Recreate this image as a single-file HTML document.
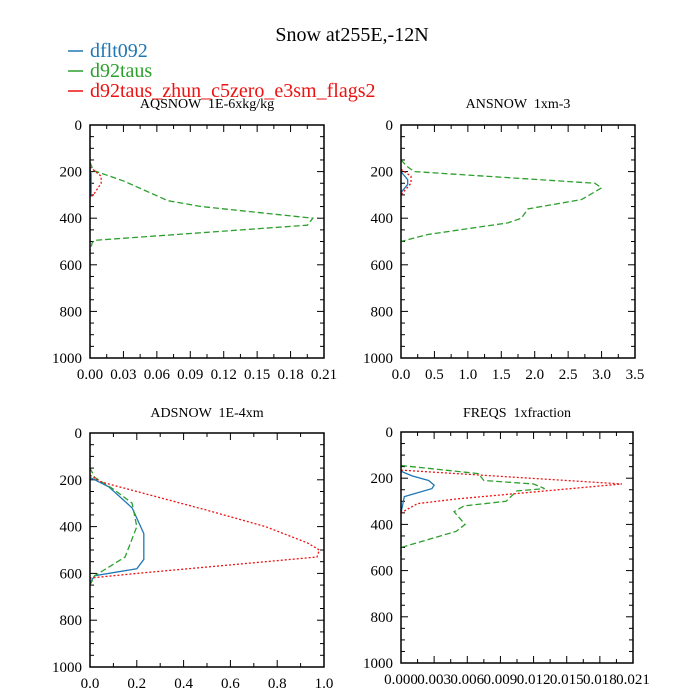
<!DOCTYPE html>
<html><head><meta charset="utf-8"><style>
body{margin:0;background:#fff}
svg{display:block;font-family:"Liberation Serif",serif}
text{white-space:pre}
</style></head><body>
<svg id="fig" width="700" height="700" xml:space="preserve">
<text x="352" y="41" font-size="20" text-anchor="middle">Snow at255E,-12N</text>
</svg>
<script>
const seriesNames=["dflt092","d92taus","d92taus_zhun_c5zero_e3sm_flags2"];
const seriesColors=["#1f77b4","#2ca02c","#ee1111"];
const seriesDash=["","6,3","2,2"];
const panelTitles=["AQSNOW  1E-6xkg/kg","ANSNOW  1xm-3","ADSNOW  1E-4xm","FREQS  1xfraction"];
const xTicks0=["0.00","0.03","0.06","0.09","0.12","0.15","0.18","0.21"];
const xTicks1=["0.0","0.5","1.0","1.5","2.0","2.5","3.0","3.5"];
const xTicks2=["0.0","0.2","0.4","0.6","0.8","1.0"];
const xTicks3=["0.000","0.003","0.006","0.009","0.012","0.015","0.018","0.021"];
const yTicks=[0,200,400,600,800,1000];
const aqBlueX=[0,0.001,0.001,0];const aqBlueP=[190,210,290,310];
const aqGreenX=[0,0.003,0.03,0.07,0.1,0.2,0.195,0.004,0.002,0];const aqGreenP=[160,195,240,325,350,400,430,495,505,540];
const aqRedX=[0,0.01,0.01,0.003,0];const aqRedP=[180,220,250,300,310];
const anBlueX=[0,0.1,0.1,0];const anBlueP=[200,235,255,290];
const anGreenX=[0,0.1,0.2,2.9,3.0,2.7,1.9,1.8,1.6,0.4,0];const anGreenP=[150,180,200,250,270,320,360,400,420,470,500];
const anRedX=[0,0.15,0.15,0];const anRedP=[190,220,250,300];
const adBlueX=[0,0.08,0.18,0.23,0.23,0.2,0.02,0];const adBlueP=[190,230,320,430,540,580,610,640];
const adGreenX=[0,0.02,0.1,0.18,0.2,0.15,0.02,0];const adGreenP=[150,190,240,300,400,530,610,650];
const adRedX=[0,0.05,0.2,0.5,0.75,0.93,0.98,0.97,0.2,0];const adRedP=[180,210,250,330,400,470,500,530,600,620];
const frBlueX=[0,0.001,0.0025,0.003,0.0028,0.001,0.0003,0];const frBlueP=[170,190,210,230,245,270,280,350];
const frGreenX=[0,0.007,0.0075,0.012,0.013,0.0105,0.0095,0.0057,0.0048,0.0058,0.005,0,0];const frGreenP=[145,180,210,225,245,255,300,320,345,400,430,500,540];
const frRedX=[0,0.02,0.005,0.0015,0];const frRedP=[165,225,290,310,350];

const NS="http://www.w3.org/2000/svg";
const svg=document.getElementById('fig');
function mk(t,a,p){const e=document.createElementNS(NS,t);for(const k in a)e.setAttribute(k,a[k]);(p||svg).appendChild(e);return e;}
const panels=[
 {x0:90,x1:324,y0:125,y1:358,xmax:0.21,ticks:xTicks0,tfs:15,series:[[aqBlueX,aqBlueP],[aqGreenX,aqGreenP],[aqRedX,aqRedP]],ty:108},
 {x0:401,x1:635,y0:125,y1:358,xmax:3.5,ticks:xTicks1,tfs:15,series:[[anBlueX,anBlueP],[anGreenX,anGreenP],[anRedX,anRedP]],ty:108},
 {x0:90,x1:324,y0:433,y1:667,xmax:1.0,ticks:xTicks2,tfs:15,series:[[adBlueX,adBlueP],[adGreenX,adGreenP],[adRedX,adRedP]],ty:417},
 {x0:401,x1:633,y0:432,y1:663,xmax:0.021,ticks:xTicks3,tfs:15,series:[[frBlueX,frBlueP],[frGreenX,frGreenP],[frRedX,frRedP]],ty:417}
];
panels.forEach((P,i)=>{
 const g=mk('g',{});
 
 
 const sx=v=>P.x0+(P.x1-P.x0)*v/P.xmax;
 const sy=p=>P.y0+(P.y1-P.y0)*p/1000;
 const t=mk('text',{x:(P.x0+P.x1)/2,y:P.ty,'font-size':14,'text-anchor':'middle'},g);t.textContent=panelTitles[i];
 
 
 const n=P.ticks.length-1;
 for(let k=0;k<=2*n;k++){const x=P.x0+(P.x1-P.x0)*k/(2*n);const L=k%2?4:7;
  mk('line',{x1:x,x2:x,y1:P.y1,y2:P.y1-L,stroke:'#000','stroke-width':1},g);
  mk('line',{x1:x,x2:x,y1:P.y0,y2:P.y0+L,stroke:'#000','stroke-width':1},g);}
 P.ticks.forEach((lab,k)=>{const tx=mk('text',{x:P.x0+(P.x1-P.x0)*k/n,y:P.y1+21,'font-size':P.tfs,'text-anchor':'middle'},g);tx.textContent=lab;
  
  });
 for(let p=0;p<=1000;p+=50){const y=sy(p);const L=p%200===0?7:4;
  mk('line',{x1:P.x0,x2:P.x0+L,y1:y,y2:y,stroke:'#000','stroke-width':1},g);
  mk('line',{x1:P.x1,x2:P.x1-L,y1:y,y2:y,stroke:'#000','stroke-width':1},g);}
 yTicks.forEach(p=>{const ty=mk('text',{x:P.x0-8,y:sy(p)+5,'font-size':15,'text-anchor':'end'},g);ty.textContent=p;
  
  });
 P.series.forEach((s,j)=>{const pts=s[0].map((v,k)=>sx(v)+','+sy(s[1][k])).join(' ');
  const pl=mk('polyline',{points:pts,fill:'none',stroke:seriesColors[j],'stroke-width':1.3,'stroke-dasharray':seriesDash[j]},g);
  
  
  const base=mk('line',{x1:sx(0),x2:sx(0),y1:sy(j===1?540:(j===0?310:350)),y2:P.y1,stroke:seriesColors[j],'stroke-width':1,'stroke-dasharray':seriesDash[j]},g);
  
  });
 const fr=mk('rect',{x:P.x0,y:P.y0,width:P.x1-P.x0,height:P.y1-P.y0,fill:'none',stroke:'#000','stroke-width':1.5},g);
 
 
});
seriesNames.forEach((nm,j)=>{const y=57+j*20;
 const g=mk('g',{});
 
 
 mk('line',{x1:68,x2:83,y1:y-6,y2:y-6,stroke:seriesColors[j],'stroke-width':1.5},g);
 const t=mk('text',{x:90,y:y,'font-size':20,fill:seriesColors[j]},g);t.textContent=nm;});
</script>
</body></html>
